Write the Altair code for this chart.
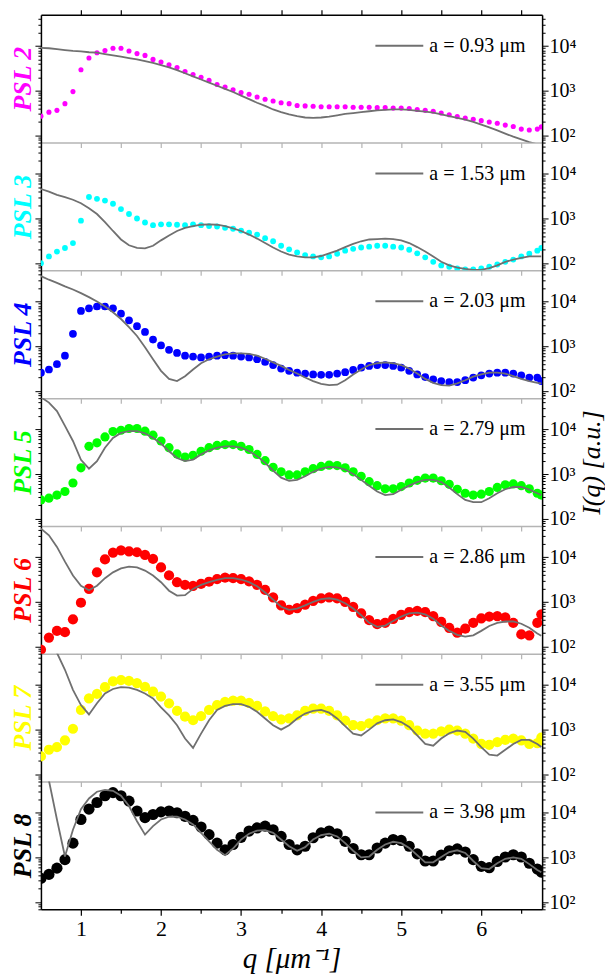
import altair as alt
import pandas as pd

Q = [0.5, 0.6, 0.7, 0.8, 0.9, 1.0, 1.1, 1.2, 1.3, 1.4,
     1.5, 1.6, 1.7, 1.8, 1.9, 2.0, 2.1, 2.2, 2.3, 2.4,
     2.5, 2.6, 2.7, 2.8, 2.9, 3.0, 3.1, 3.2, 3.3, 3.4,
     3.5, 3.6, 3.7, 3.8, 3.9, 4.0, 4.1, 4.2, 4.3, 4.4,
     4.5, 4.6, 4.7, 4.8, 4.9, 5.0, 5.1, 5.2, 5.3, 5.4,
     5.5, 5.6, 5.7, 5.8, 5.9, 6.0, 6.1, 6.2, 6.3, 6.4,
     6.5, 6.6, 6.7, 6.75]

# measured intensities, stored as log10(I)
PSL2_PTS = [2.43, 2.52, 2.56, 2.71, 2.98, 3.47, 3.73, 3.85, 3.90, 3.95,
            3.95, 3.89, 3.83, 3.79, 3.70, 3.64, 3.58, 3.52, 3.43, 3.36,
            3.30, 3.23, 3.14, 3.08, 3.02, 2.96, 2.92, 2.86, 2.81, 2.77,
            2.73, 2.71, 2.67, 2.66, 2.65, 2.64, 2.64, 2.64, 2.64, 2.63,
            2.63, 2.63, 2.62, 2.62, 2.61, 2.61, 2.60, 2.58, 2.56, 2.54,
            2.50, 2.46, 2.42, 2.39, 2.36, 2.33, 2.30, 2.27, 2.23, 2.20,
            2.14, 2.12, 2.14, 2.19]
PSL2_FIT = [3.96, 3.95, 3.93, 3.91, 3.89, 3.88, 3.86, 3.85, 3.82, 3.79,
            3.76, 3.73, 3.70, 3.66, 3.62, 3.57, 3.52, 3.46, 3.39, 3.32,
            3.25, 3.18, 3.11, 3.04, 2.97, 2.89, 2.81, 2.73, 2.66, 2.58,
            2.52, 2.47, 2.43, 2.40, 2.39, 2.40, 2.42, 2.45, 2.48, 2.50,
            2.52, 2.54, 2.56, 2.57, 2.58, 2.58, 2.57, 2.55, 2.53, 2.51,
            2.47, 2.43, 2.39, 2.35, 2.30, 2.24, 2.18, 2.11, 2.04, 1.97,
            1.91, 1.85, 1.80, 1.78]

PSL3_PTS = [2.00, 2.15, 2.26, 2.34, 2.45, 2.95, 3.48, 3.44, 3.40, 3.33,
            3.21, 3.10, 3.00, 2.91, 2.85, 2.87, 2.87, 2.86, 2.85, 2.87,
            2.85, 2.83, 2.82, 2.79, 2.77, 2.73, 2.68, 2.64, 2.56, 2.49,
            2.39, 2.31, 2.24, 2.18, 2.15, 2.13, 2.15, 2.21, 2.28, 2.32,
            2.35, 2.37, 2.39, 2.39, 2.37, 2.35, 2.30, 2.22, 2.13, 2.03,
            1.95, 1.92, 1.88, 1.86, 1.86, 1.88, 1.92, 1.97, 2.03, 2.08,
            2.15, 2.21, 2.28, 2.34]
PSL3_FIT = [3.66, 3.60, 3.53, 3.48, 3.42, 3.34, 3.23, 3.10, 2.92, 2.72,
            2.53, 2.40, 2.34, 2.33, 2.39, 2.51, 2.62, 2.72, 2.79, 2.83,
            2.86, 2.87, 2.86, 2.83, 2.78, 2.72, 2.64, 2.55, 2.45, 2.35,
            2.26, 2.19, 2.15, 2.13, 2.13, 2.16, 2.22, 2.28, 2.36, 2.43,
            2.49, 2.53, 2.54, 2.55, 2.54, 2.51, 2.45, 2.36, 2.26, 2.15,
            2.03, 1.95, 1.90, 1.87, 1.85, 1.85, 1.89, 1.95, 2.03, 2.08,
            2.12, 2.15, 2.15, 2.15]

PSL4_PTS = [2.41, 2.48, 2.60, 2.79, 3.28, 3.79, 3.85, 3.89, 3.89, 3.85,
            3.73, 3.58, 3.45, 3.32, 3.15, 3.02, 2.92, 2.85, 2.79, 2.77,
            2.75, 2.77, 2.79, 2.80, 2.79, 2.77, 2.75, 2.71, 2.65, 2.58,
            2.50, 2.45, 2.41, 2.39, 2.37, 2.36, 2.36, 2.39, 2.42, 2.47,
            2.52, 2.56, 2.58, 2.58, 2.56, 2.52, 2.45, 2.37, 2.31, 2.26,
            2.22, 2.20, 2.20, 2.24, 2.30, 2.35, 2.39, 2.41, 2.41, 2.39,
            2.35, 2.30, 2.30, 2.22]
PSL4_FIT = [4.57, 4.49, 4.42, 4.34, 4.27, 4.19, 4.10, 4.00, 3.89, 3.76,
            3.61, 3.43, 3.23, 2.98, 2.71, 2.45, 2.27, 2.22, 2.33, 2.48,
            2.62, 2.71, 2.77, 2.82, 2.84, 2.84, 2.83, 2.79, 2.72, 2.64,
            2.56, 2.47, 2.39, 2.30, 2.22, 2.16, 2.13, 2.14, 2.24, 2.37,
            2.48, 2.58, 2.62, 2.64, 2.62, 2.58, 2.50, 2.39, 2.27, 2.18,
            2.13, 2.12, 2.17, 2.24, 2.32, 2.37, 2.41, 2.41, 2.39, 2.33,
            2.27, 2.22, 2.18, 2.17]

PSL5_PTS = [2.42, 2.46, 2.53, 2.61, 2.80, 3.14, 3.62, 3.70, 3.83, 3.95,
            3.98, 4.02, 4.02, 3.96, 3.87, 3.74, 3.59, 3.45, 3.38, 3.42,
            3.51, 3.59, 3.64, 3.66, 3.66, 3.62, 3.55, 3.44, 3.30, 3.15,
            3.05, 2.98, 2.98, 3.05, 3.12, 3.17, 3.20, 3.19, 3.14, 3.05,
            2.95, 2.83, 2.74, 2.67, 2.67, 2.72, 2.80, 2.86, 2.91, 2.91,
            2.85, 2.77, 2.66, 2.57, 2.53, 2.55, 2.61, 2.70, 2.76, 2.78,
            2.74, 2.67, 2.57, 2.53]
PSL5_FIT = [4.72, 4.60, 4.41, 4.08, 3.74, 3.32, 3.12, 3.29, 3.59, 3.81,
            3.92, 3.96, 3.96, 3.91, 3.81, 3.68, 3.51, 3.36, 3.29, 3.32,
            3.44, 3.53, 3.59, 3.62, 3.62, 3.59, 3.51, 3.40, 3.25, 3.08,
            2.92, 2.85, 2.87, 2.95, 3.05, 3.12, 3.16, 3.15, 3.10, 3.00,
            2.87, 2.74, 2.61, 2.53, 2.55, 2.65, 2.74, 2.82, 2.87, 2.87,
            2.82, 2.70, 2.55, 2.42, 2.37, 2.37, 2.46, 2.57, 2.66, 2.71,
            2.71, 2.65, 2.57, 2.53]

PSL6_PTS = [1.93, 2.20, 2.35, 2.32, 2.61, 2.98, 3.29, 3.66, 3.95, 4.10,
            4.15, 4.13, 4.11, 4.05, 3.96, 3.77, 3.59, 3.44, 3.38, 3.36,
            3.40, 3.45, 3.51, 3.54, 3.53, 3.51, 3.46, 3.38, 3.27, 3.10,
            2.92, 2.82, 2.86, 2.94, 3.02, 3.08, 3.10, 3.08, 3.00, 2.89,
            2.74, 2.59, 2.50, 2.53, 2.62, 2.71, 2.77, 2.80, 2.77, 2.68,
            2.55, 2.42, 2.31, 2.40, 2.53, 2.63, 2.67, 2.68, 2.65, 2.53,
            2.27, 2.25, 2.53, 2.72]
PSL6_FIT = [4.64, 4.49, 4.23, 3.90, 3.59, 3.36, 3.26, 3.36, 3.53, 3.66,
            3.75, 3.79, 3.77, 3.70, 3.59, 3.44, 3.25, 3.14, 3.15, 3.29,
            3.38, 3.44, 3.49, 3.53, 3.53, 3.50, 3.44, 3.35, 3.21, 3.05,
            2.89, 2.82, 2.85, 2.92, 3.00, 3.06, 3.08, 3.05, 2.97, 2.85,
            2.70, 2.53, 2.44, 2.47, 2.57, 2.67, 2.74, 2.76, 2.72, 2.62,
            2.47, 2.35, 2.26, 2.22, 2.25, 2.35, 2.46, 2.53, 2.56, 2.56,
            2.51, 2.42, 2.29, 2.24]

PSL7_PTS = [2.40, 2.55, 2.61, 2.76, 3.02, 3.44, 3.70, 3.80, 3.95, 4.08,
            4.11, 4.09, 4.04, 3.96, 3.85, 3.74, 3.59, 3.42, 3.29, 3.21,
            3.30, 3.44, 3.55, 3.62, 3.65, 3.65, 3.60, 3.53, 3.41, 3.30,
            3.23, 3.25, 3.32, 3.42, 3.47, 3.47, 3.42, 3.32, 3.20, 3.10,
            3.08, 3.14, 3.21, 3.25, 3.25, 3.20, 3.10, 2.98, 2.91, 2.91,
            2.96, 3.00, 2.98, 2.91, 2.80, 2.68, 2.66, 2.72, 2.77, 2.80,
            2.76, 2.68, 2.70, 2.82]
PSL7_FIT = [5.00, 4.90, 4.72, 4.34, 3.89, 3.55, 3.34, 3.59, 3.81, 3.91,
            3.95, 3.94, 3.89, 3.81, 3.70, 3.50, 3.32, 3.10, 2.80, 2.59,
            2.91, 3.21, 3.44, 3.53, 3.57, 3.57, 3.51, 3.40, 3.25, 3.10,
            3.00, 3.10, 3.25, 3.36, 3.42, 3.44, 3.38, 3.25, 3.08, 2.91,
            2.87, 3.00, 3.14, 3.21, 3.23, 3.17, 3.06, 2.87, 2.68, 2.64,
            2.80, 2.92, 2.98, 2.95, 2.80, 2.61, 2.44, 2.42, 2.55, 2.68,
            2.77, 2.77, 2.68, 2.61]

PSL8_PTS = [2.53, 2.62, 2.76, 2.95, 3.32, 3.85, 4.08, 4.23, 4.38, 4.45,
            4.38, 4.26, 4.04, 3.89, 3.96, 4.02, 4.04, 4.00, 3.92, 3.83,
            3.68, 3.51, 3.32, 3.17, 3.29, 3.45, 3.59, 3.66, 3.70, 3.62,
            3.47, 3.29, 3.17, 3.25, 3.44, 3.55, 3.59, 3.53, 3.36, 3.20,
            3.06, 3.06, 3.21, 3.32, 3.40, 3.38, 3.25, 3.08, 2.92, 2.92,
            3.05, 3.15, 3.19, 3.12, 2.95, 2.80, 2.77, 2.91, 3.01, 3.06,
            3.01, 2.87, 2.74, 2.67]
PSL8_FIT = [5.00, 4.72, 3.85, 3.02, 3.62, 4.08, 4.32, 4.47, 4.51, 4.49,
            4.38, 4.15, 3.81, 3.51, 3.70, 3.85, 3.91, 3.91, 3.85, 3.74,
            3.55, 3.36, 3.17, 3.05, 3.20, 3.40, 3.53, 3.60, 3.61, 3.55,
            3.40, 3.25, 3.15, 3.23, 3.40, 3.50, 3.53, 3.47, 3.32, 3.15,
            3.00, 3.02, 3.17, 3.29, 3.35, 3.32, 3.21, 3.05, 2.89, 2.89,
            3.01, 3.12, 3.16, 3.10, 2.92, 2.76, 2.74, 2.87, 2.97, 3.00,
            2.97, 2.85, 2.72, 2.67]

NAMES = ["PSL 2", "PSL 3", "PSL 4", "PSL 5", "PSL 6", "PSL 7", "PSL 8"]
RADII = ["a = 0.93 μm", "a = 1.53 μm", "a = 2.03 μm", "a = 2.79 μm",
         "a = 2.86 μm", "a = 3.55 μm", "a = 3.98 μm"]
COLORS = ["#ff00ff", "#00ffff", "#0000ff", "#00ff00", "#ff0000", "#ffff00", "#000000"]
POINTS = [PSL2_PTS, PSL3_PTS, PSL4_PTS, PSL5_PTS, PSL6_PTS, PSL7_PTS, PSL8_PTS]
FITS = [PSL2_FIT, PSL3_FIT, PSL4_FIT, PSL5_FIT, PSL6_FIT, PSL7_FIT, PSL8_FIT]
SIZES = [26, 34, 60, 85, 105, 105, 125]

YTICKS = [70, 80, 90, 100, 200, 300, 400, 500, 600, 700, 800, 900,
          1000, 2000, 3000, 4000, 5000, 6000, 7000, 8000, 9000,
          10000, 20000, 30000, 40000]
XTICKS = [1, 1.5, 2, 2.5, 3, 3.5, 4, 4.5, 5, 5.5, 6, 6.5]

FONT = "Liberation Serif, Times New Roman, Times, serif"
GRAY_LINE = "#707070"
GRAY_AXIS = "#b4b4b4"

xscale = alt.Scale(domain=[0.5, 6.76], nice=False, zero=False)
yscale = alt.Scale(type="log", domain=[69, 50000], nice=False)

ytick_size = {"condition": {"test": "indexof([100, 1000, 10000], datum.value) >= 0", "value": 6}, "value": 3}
xtick_size = {"condition": {"test": "datum.value % 1 == 0", "value": 6}, "value": 4}
ylabel_expr = ("datum.value == 100 ? '10\u00b2' : datum.value == 1000 ? '10\u00b3' : "
               "datum.value == 10000 ? '10\u2074' : ''")

W, H = 502, 128
n = len(NAMES)
panels = []
for i in range(n):
    df = pd.DataFrame({
        "q": Q,
        "pts": [10 ** v for v in POINTS[i]],
        "fit": [10 ** v for v in FITS[i]],
        "label": RADII[i],
    })
    last = i == n - 1
    if last:
        xaxis = alt.Axis(orient="bottom", values=XTICKS, domainColor="black", domainWidth=1.5,
                         tickColor="black", tickWidth=1.2, tickSize=xtick_size,
                         labelExpr="datum.value % 1 == 0 ? format(datum.value, 'd') : ''",
                         labelFont=FONT, labelFontSize=22, labelColor="black", labelPadding=3,
                         labelOverlap=False, labelFlush=False, grid=False,
                         title="q [μm⁻¹]", titleFont=FONT, titleFontSize=29,
                         titleFontStyle="italic", titleFontWeight="normal", titleColor="black",
                         titlePadding=5)
    else:
        xaxis = alt.Axis(orient="bottom", values=XTICKS, domainColor=GRAY_AXIS, domainWidth=1.5,
                         tickColor=GRAY_AXIS, tickWidth=1.2, tickSize=5, labels=False,
                         grid=False, title=None)
    left_axis = alt.Axis(orient="left", values=YTICKS, labels=False, domainColor="black",
                         domainWidth=1.5, tickColor="black", tickWidth=1, tickSize=ytick_size,
                         grid=False, title=NAMES[i], titleFont=FONT, titleFontSize=26,
                         titleFontStyle="italic", titleFontWeight="bold", titleColor=COLORS[i],
                         titleAngle=270, titlePadding=-1)
    right_kw = dict(orient="right", values=YTICKS, labelExpr=ylabel_expr, labelFont=FONT,
                    labelFontSize=20, labelColor="black", labelPadding=1, labelOverlap=False,
                    labelFlush=False, domainColor="black", domainWidth=1.5, tickColor="black",
                    tickWidth=1, tickSize=ytick_size, grid=False)
    if i == 3:
        right_axis = alt.Axis(title="I(q) [a.u.]", titleFont=FONT, titleFontSize=26,
                              titleFontStyle="italic", titleFontWeight="normal",
                              titleColor="black", titleAngle=270, titleBaseline="top",
                              titlePadding=3, **right_kw)
    else:
        right_axis = alt.Axis(title=None, **right_kw)

    points = alt.Chart(df).mark_circle(color=COLORS[i], size=SIZES[i], opacity=1, clip=True).encode(
        x=alt.X("q:Q", scale=xscale, axis=xaxis),
        y=alt.Y("pts:Q", scale=yscale, axis=left_axis),
    )
    if i == 0:
        xline = alt.X("q:Q", scale=xscale,
                      axis=alt.Axis(orient="top", values=XTICKS, domainColor="black", domainWidth=1.5,
                                    tickColor="black", tickWidth=1.2, tickSize=5, labels=False,
                                    grid=False, title=None))
    else:
        xline = alt.X("q:Q", scale=xscale)
    line = alt.Chart(df).mark_line(strokeWidth=1.8, clip=True).encode(
        x=xline,
        y=alt.Y("fit:Q", scale=yscale, axis=right_axis),
        color=alt.Color("label:N", scale=alt.Scale(range=[GRAY_LINE]),
                        legend=alt.Legend(orient="none", legendX=334, legendY=6, title=None,
                                          symbolType="stroke", symbolSize=2300,
                                          symbolStrokeWidth=2, labelFont=FONT, labelFontSize=20,
                                          labelColor="black", labelOffset=5, padding=0)),
    )
    layer = alt.layer(points, line).resolve_scale(y="shared")
    if i == 0:
        layer = layer.resolve_axis(y="independent", x="independent")
    else:
        layer = layer.resolve_axis(y="independent")
    panels.append(layer.properties(width=W, height=H))

chart = alt.vconcat(*panels, spacing=0, bounds="flush").resolve_scale(
    color="independent", y="independent"
).resolve_axis(x="independent", y="independent").properties(
    padding={"left": 9, "top": 8, "right": 0, "bottom": 2},
    background="white",
).configure_view(stroke=None)

chart.save("out.html", embed_options={"renderer": "svg", "actions": False})
